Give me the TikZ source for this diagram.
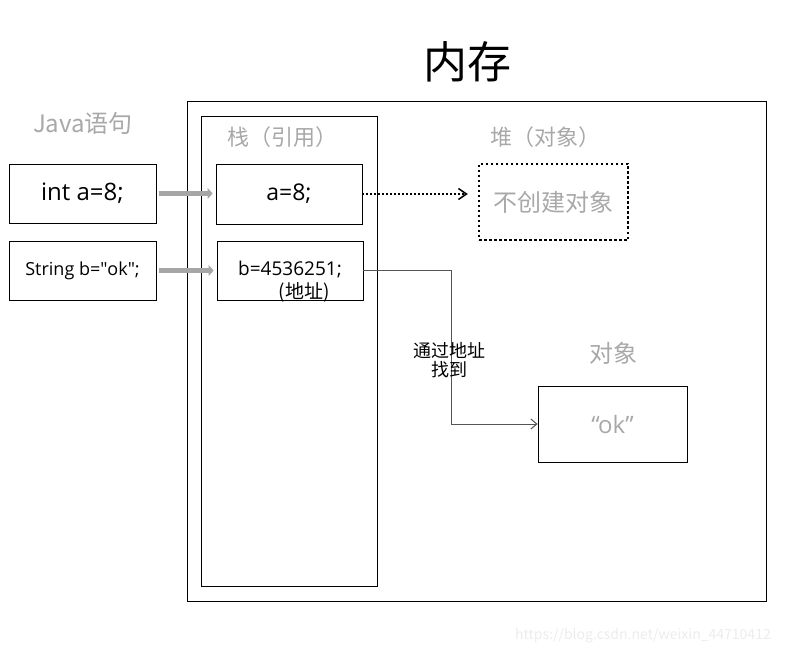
\documentclass[tikz,border=0pt]{standalone}
\usepackage{fontspec}
\setmainfont{Noto Sans CJK SC}
\newfontfamily\latinfont{Open Sans}
\usetikzlibrary{arrows.meta}
\definecolor{lightgraytext}{RGB}{168,168,168}
\definecolor{arrowgray}{RGB}{166,166,166}
\definecolor{linegray}{RGB}{85,85,85}
\definecolor{markgray}{RGB}{236,236,236}

\begin{document}
\begin{tikzpicture}[x=1pt,y=-1pt,
  box/.style={draw, line width=0.8pt, inner sep=0pt},
  heading/.style={text=lightgraytext, font=\fontsize{22}{26}\selectfont},
  feed/.style={draw=arrowgray, line width=5pt, -{Triangle[length=5pt,width=11pt]}},
  ]
\useasboundingbox (0,0) rectangle (787,655);

% title and regions
\node (title) at (467,62) {\fontsize{44}{50}\selectfont 内存};
\draw[line width=0.8pt] (187,101) rectangle (766,601);
\draw[line width=0.8pt] (201,116) rectangle (377,586);

\node[heading, font=\fontsize{24}{28}\selectfont] (java) at (83,123) {Java语句};
\node[heading] (stack) at (282,137) {栈（引用）};
\node[heading] (heap) at (545,137) {堆（对象）};
\node[heading, font=\fontsize{24}{28}\selectfont] (objlabel) at (613,353) {对象};

% java statements
\node[box, minimum width=147pt, minimum height=59pt, font=\latinfont\fontsize{24}{28}\selectfont]
  (codea) at (82.5,193.5) {int a=8;};
\node[box, minimum width=147pt, minimum height=59pt, font=\latinfont\fontsize{18}{22}\selectfont]
  (codeb) at (82.5,270.5) {String b=″ok″;};

% stack entries
\node[box, minimum width=146pt, minimum height=60pt, font=\latinfont\fontsize{23}{27}\selectfont]
  (refa) at (289,194) {a=8;};
\node[box, minimum width=146pt, minimum height=59pt] (refb) at (290,270.5) {};
\node[font=\latinfont\fontsize{19}{22}\selectfont] (refbval) at (290,270) {b=4536251;};
\node[font=\fontsize{19}{22}\selectfont] (refbaddr) at (304,292) {(地址)};

% heap
\node[draw, line width=2.5pt, dash pattern=on 2.5pt off 2.5pt, minimum width=149pt,
  minimum height=76pt, text=lightgraytext, font=\fontsize{24}{28}\selectfont]
  (noobj) at (553.5,202) {不创建对象};
\node[box, minimum width=149pt, minimum height=76pt, text=lightgraytext,
  font=\latinfont\fontsize{24}{28}\selectfont] (obj) at (612.5,424) {“ok”};

% connectors
\draw[feed, shorten <=3pt, shorten >=3pt] (codea.east) -- (refa.west |- codea.east);
\draw[feed, shorten <=3pt, shorten >=3pt] (codeb.east) -- (refb.west |- codeb.east);

\draw[line width=2pt, dash pattern=on 2pt off 2pt, shorten >=10pt,
  -{Straight Barb[length=8pt,width=11pt,line width=1.5pt]}] (refa.east) -- (noobj.west |- refa.east);

\coordinate (bend) at (451,300);
\draw[linegray, line width=1pt, -{Straight Barb[length=6pt,width=10pt]}]
  (refb.east) -| (bend |- obj.west) -- (obj.west);
\node[align=center, font=\fontsize{18}{19}\selectfont] (via) at (449,360) {通过地址\\找到};

\node[text=markgray, font=\fontsize{14}{16}\selectfont] (mark) at (643,636) {https://blog.csdn.net/weixin\_44710412};
\end{tikzpicture}
\end{document}
